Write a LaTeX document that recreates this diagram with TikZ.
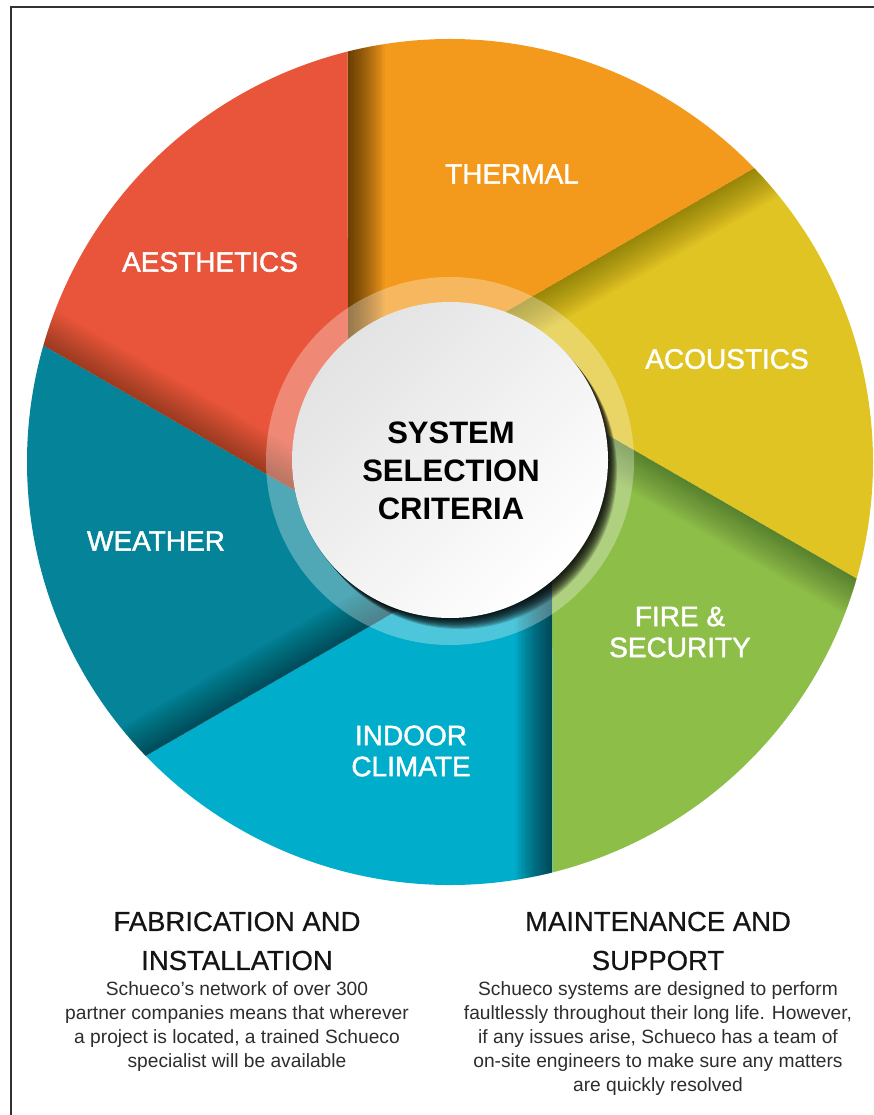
\documentclass[tikz,border=0pt]{standalone}
\usepackage{fontspec}
\setmainfont{Liberation Sans}
\newfontfamily\labelfont{Liberation Sans}[FakeBold=1.5]
\newfontfamily\headfont{Liberation Sans}[FakeBold=0.6]
\usetikzlibrary{positioning}
\definecolor{seg_orange}{RGB}{243,153,27}
\definecolor{seg_yellow}{RGB}{224,196,35}
\definecolor{seg_green}{RGB}{141,190,72}
\definecolor{seg_cyan}{RGB}{0,173,203}
\definecolor{seg_teal}{RGB}{5,131,153}
\definecolor{seg_red}{RGB}{233,85,58}
\definecolor{frame_gray}{RGB}{50,50,50}
\definecolor{text_dark}{RGB}{20,20,20}
\definecolor{text_body}{RGB}{45,45,45}

\begin{document}
\begin{tikzpicture}[x=1pt,y=-1pt]
    \tikzstyle{seglabel}=[text=white, align=center, font=\labelfont\fontsize{28}{31}\selectfont]
    \tikzstyle{hub}=[circle, minimum size=316, top color=black!11, bottom color=white, shading angle=45]
    \tikzstyle{hubtext}=[text=black, align=center, font=\bfseries\fontsize{31}{38}\selectfont]
    \tikzstyle{heading}=[text=text_dark, align=center, font=\headfont\fontsize{27.5}{39}\selectfont]
    \tikzstyle{body}=[text=text_body, align=center, font=\fontsize{19.2}{24}\selectfont]

    \useasboundingbox (0,0) rectangle (874,1115);
    \draw[frame_gray, line width=2] (874,7) -- (11,7) -- (11,1115);

    % pinwheel segments, each with a fold shadow on its leading edge
    \begin{scope}[shift={(450,462)}, yscale=-1]
    \foreach \col/\op [count=\k from 0] in {seg_orange/0.026,seg_yellow/0.013,seg_green/0.012,seg_cyan/0.026,seg_teal/0.017,seg_red/0.013} {
      \pgfmathsetmacro\a{104-60*\k}
      \begin{scope}
        \clip (\a:423) -- ({\a+46}:118) -- ({\a-14}:118) -- ({\a-60}:423)
          arc[start angle=\a-60, end angle=\a, radius=423] -- cycle;
        \fill[\col] (0,0) circle (430);
        \foreach \w in {1.4,2.8,...,38}
          \fill[black, opacity=\op, rotate=104-\a] (-103,-440) rectangle (-103+\w,440);
      \end{scope}
    }
    \end{scope}

    \fill[white, opacity=0.3, even odd rule] (450,461) circle (184) (450,461) circle (158);
    \foreach \k in {1,...,10}
      \fill[black, opacity=0.17] (450+0.9*\k, 460+1.1*\k) circle (158);

    \node[hub] (hub) at (450,460) {};
    \node[hubtext] (title) at (451,471) {SYSTEM\\SELECTION\\CRITERIA};

    \node[seglabel] (thermal)    at (512,174) {THERMAL};
    \node[seglabel] (acoustics)  at (727,359) {ACOUSTICS};
    \node[seglabel] (fire)       at (680,632) {FIRE \&\\SECURITY};
    \node[seglabel] (indoor)     at (411,751) {INDOOR\\CLIMATE};
    \node[seglabel] (weather)    at (156,541) {WEATHER};
    \node[seglabel] (aesthetics) at (210,262) {AESTHETICS};

    \node[heading] (fab)   at (237,941) {FABRICATION AND\\INSTALLATION};
    \node[heading] (maint) at (658,941) {MAINTENANCE AND\\SUPPORT};
    \node[body, below=4pt of fab] (fabtext) {Schueco’s network of over 300\\partner companies means that wherever\\a project is located, a trained Schueco\\specialist will be available};
    \node[body, below=4pt of maint] (mainttext) {Schueco systems are designed to perform\\faultlessly throughout their long life. However,\\if any issues arise, Schueco has a team of\\on-site engineers to make sure any matters\\are quickly resolved};
\end{tikzpicture}
\end{document}
